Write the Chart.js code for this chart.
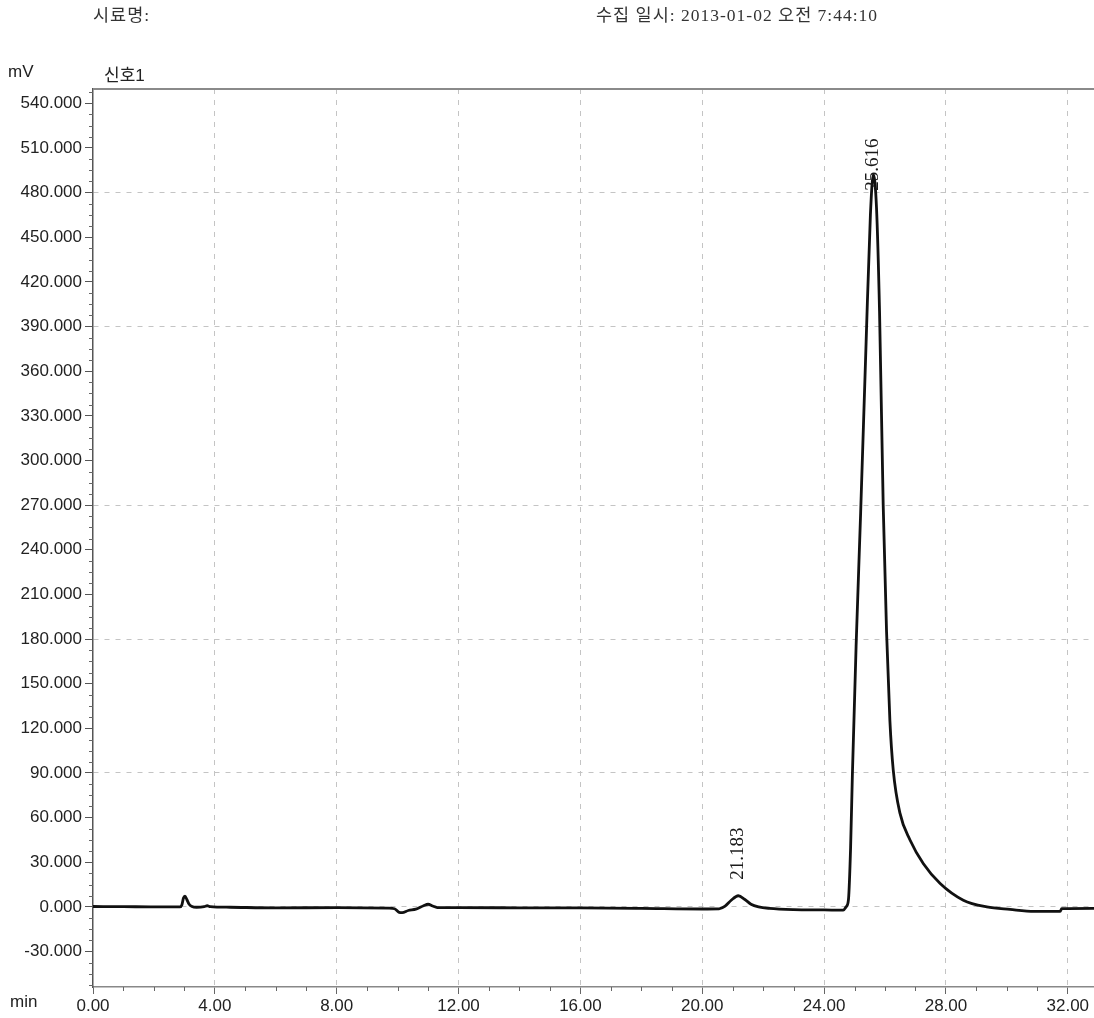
<!DOCTYPE html>
<html>
<head>
<meta charset="utf-8">
<script src="https://cdn.jsdelivr.net/npm/chart.js@4.4.1/dist/chart.umd.min.js"></script>
<style>
  body { margin: 0; background: #fff; }
  #wrap { position: relative; width: 1094px; height: 1018px; }
  .lbl { position: absolute; white-space: nowrap; color: #222; }
  .serif { font-family: "Liberation Serif", "Noto Sans CJK KR", serif; font-size: 17.5px; letter-spacing: 1px; color: #333; }
  .sans { font-family: "Liberation Sans", "Noto Sans CJK KR", sans-serif; font-size: 17px; }
</style>
</head>
<body>
<div id="wrap">
  <canvas id="chromChart" width="1094" height="1018"></canvas>
  <div class="lbl serif" style="left:93px;top:1px;">시료명:</div>
  <div class="lbl serif" style="left:596px;top:1px;">수집 일시: 2013-01-02 오전 7:44:10</div>
  <div class="lbl sans" style="left:8px;top:62px;">mV</div>
  <div class="lbl sans" style="left:104px;top:61px;">신호1</div>
  <div class="lbl sans" style="left:10px;top:992px;">min</div>
</div>
<script>
// retention time (min) and detector signal (mV)
const retentionTimes = [
  0.0, 1.0, 2.0, 2.85, 2.92, 2.97, 3.02, 3.08, 3.15, 3.25, 3.4, 3.65, 3.75, 3.85,
  4.5, 6.0, 8.0, 9.7, 9.9, 10.05, 10.15, 10.35, 10.6, 10.85, 11.0, 11.15, 11.3,
  12.0, 14.0, 16.0, 18.0, 20.0, 20.55, 20.75, 20.95, 21.183, 21.4, 21.6, 21.85, 22.2,
  23.0, 24.0, 24.63, 24.72, 24.8, 24.87, 24.93, 25.05, 25.2, 25.38, 25.52, 25.616,
  25.72, 25.82, 25.94, 26.05, 26.16, 26.27, 26.49, 26.82, 27.26, 27.81, 28.57,
  29.34, 30.1, 30.9, 31.75, 31.8, 32.86
];
const signalMv = [
  0.3, 0.2, 0.0, 0.0, 1.5, 6.0, 7.2, 5.0, 2.0, 0.3, -0.2, 0.2, 0.8, 0.2,
  -0.2, -0.6, -0.5, -0.8, -1.2, -3.6, -3.8, -2.4, -1.5, 0.8, 1.8, 0.6, -0.4,
  -0.5, -0.6, -0.7, -1.0, -1.4, -1.3, 0.5, 4.5, 7.5, 5.0, 1.8, 0.0, -1.0,
  -1.8, -2.0, -2.2, 0.0, 5.0, 40, 90, 175, 265, 380, 465, 492,
  470, 400, 270, 185, 125, 92, 63, 45, 29, 15.7, 4.5,
  0.0, -1.7, -3.0, -3.0, -1.2, -1.0
];

// annotated peaks
const peakTimes = [21.183, 25.616];
const peakLabels = ['21.183', '25.616'];

// axis ticks
const xTickValues = [0, 4, 8, 12, 16, 20, 24, 28, 32];
const yTickValues = [-30, 0, 30, 60, 90, 120, 150, 180, 210, 240, 270, 300, 330, 360,
  390, 420, 450, 480, 510, 540];
const yGridValues = [480, 390, 270, 180, 90, 0];

const X_MAX = 32.86, Y_MIN = -53.8, Y_MAX = 549.6;

const traceData = retentionTimes.map((t, i) => ({ x: t, y: signalMv[i] }));

// extra drawing: frame top line, minor ticks, peak labels
const chromPlugin = {
  id: 'chromExtras',
  afterDraw(chart) {
    const ctx = chart.ctx;
    const area = chart.chartArea;
    const xs = chart.scales.x, ys = chart.scales.y;
    ctx.save();

    // top frame line
    ctx.strokeStyle = '#8a8a8a';
    ctx.lineWidth = 2;
    ctx.beginPath();
    ctx.moveTo(area.left, area.top);
    ctx.lineTo(area.right, area.top);
    ctx.stroke();

    // minor ticks
    ctx.strokeStyle = '#666';
    ctx.lineWidth = 1;
    ctx.beginPath();
    for (let v = -52.5; v <= Y_MAX; v += 7.5) {
      if (Math.abs(v / 30 - Math.round(v / 30)) < 1e-6) continue;
      const py = Math.round(ys.getPixelForValue(v)) + 0.5;
      ctx.moveTo(area.left - 4, py);
      ctx.lineTo(area.left, py);
    }
    for (let t = 1; t <= X_MAX; t += 1) {
      if (t % 4 === 0) continue;
      const px = Math.round(xs.getPixelForValue(t)) + 0.5;
      ctx.moveTo(px, area.bottom);
      ctx.lineTo(px, area.bottom + 4);
    }
    ctx.stroke();

    // rotated peak labels
    const gaps = [16, -16];
    ctx.fillStyle = '#1a1a1a';
    ctx.font = '19px "Liberation Serif", serif';
    ctx.textAlign = 'left';
    ctx.textBaseline = 'middle';
    peakTimes.forEach((t, i) => {
      const idx = retentionTimes.indexOf(t);
      const px = xs.getPixelForValue(t);
      const py = ys.getPixelForValue(signalMv[idx]) - gaps[i];
      ctx.save();
      ctx.translate(px, py);
      ctx.rotate(-Math.PI / 2);
      ctx.fillText(peakLabels[i], 0, 0);
      ctx.restore();
    });
    ctx.restore();
  }
};

const chart = new Chart(document.getElementById('chromChart').getContext('2d'), {
  type: 'line',
  data: {
    datasets: [{
      data: traceData,
      borderColor: '#111',
      borderWidth: 2.8,
      pointRadius: 0,
      cubicInterpolationMode: 'monotone',
      fill: false
    }]
  },
  options: {
    responsive: false,
    devicePixelRatio: 1,
    animation: false,
    layout: { padding: { top: 89, left: 0, right: 0, bottom: 0 } },
    plugins: { legend: { display: false }, tooltip: { enabled: false } },
    scales: {
      x: {
        type: 'linear',
        min: 0,
        max: X_MAX,
        afterBuildTicks: (scale) => { scale.ticks = xTickValues.map(v => ({ value: v })); },
        afterFit: (scale) => { scale.height = 31; },
        ticks: {
          autoSkip: false,
          maxRotation: 0,
          padding: 2,
          color: '#222',
          font: { family: '"Liberation Sans", Arial, sans-serif', size: 17 },
          callback: (v) => Number(v).toFixed(2)
        },
        grid: {
          color: (c) => (c.tick && c.tick.value > 0 ? '#c4c4c4' : 'rgba(0,0,0,0)'),
          tickColor: '#666',
          tickLength: 7,
          lineWidth: 1
        },
        border: { display: true, color: '#888', width: 1.5, dash: [5, 6] }
      },
      y: {
        min: Y_MIN,
        max: Y_MAX,
        afterBuildTicks: (scale) => { scale.ticks = yTickValues.map(v => ({ value: v })); },
        afterFit: (scale) => { scale.width = 93; },
        ticks: {
          padding: 3,
          color: '#222',
          font: { family: '"Liberation Sans", Arial, sans-serif', size: 17 },
          callback: (v) => Number(v).toFixed(3)
        },
        grid: {
          color: (c) => (c.tick && yGridValues.includes(c.tick.value) ? '#c4c4c4' : 'rgba(0,0,0,0)'),
          tickColor: '#555',
          tickLength: 8,
          lineWidth: 1
        },
        border: { display: true, color: '#555', width: 1.5, dash: [5, 6] }
      }
    }
  },
  plugins: [chromPlugin]
});
</script>
</body>
</html>
